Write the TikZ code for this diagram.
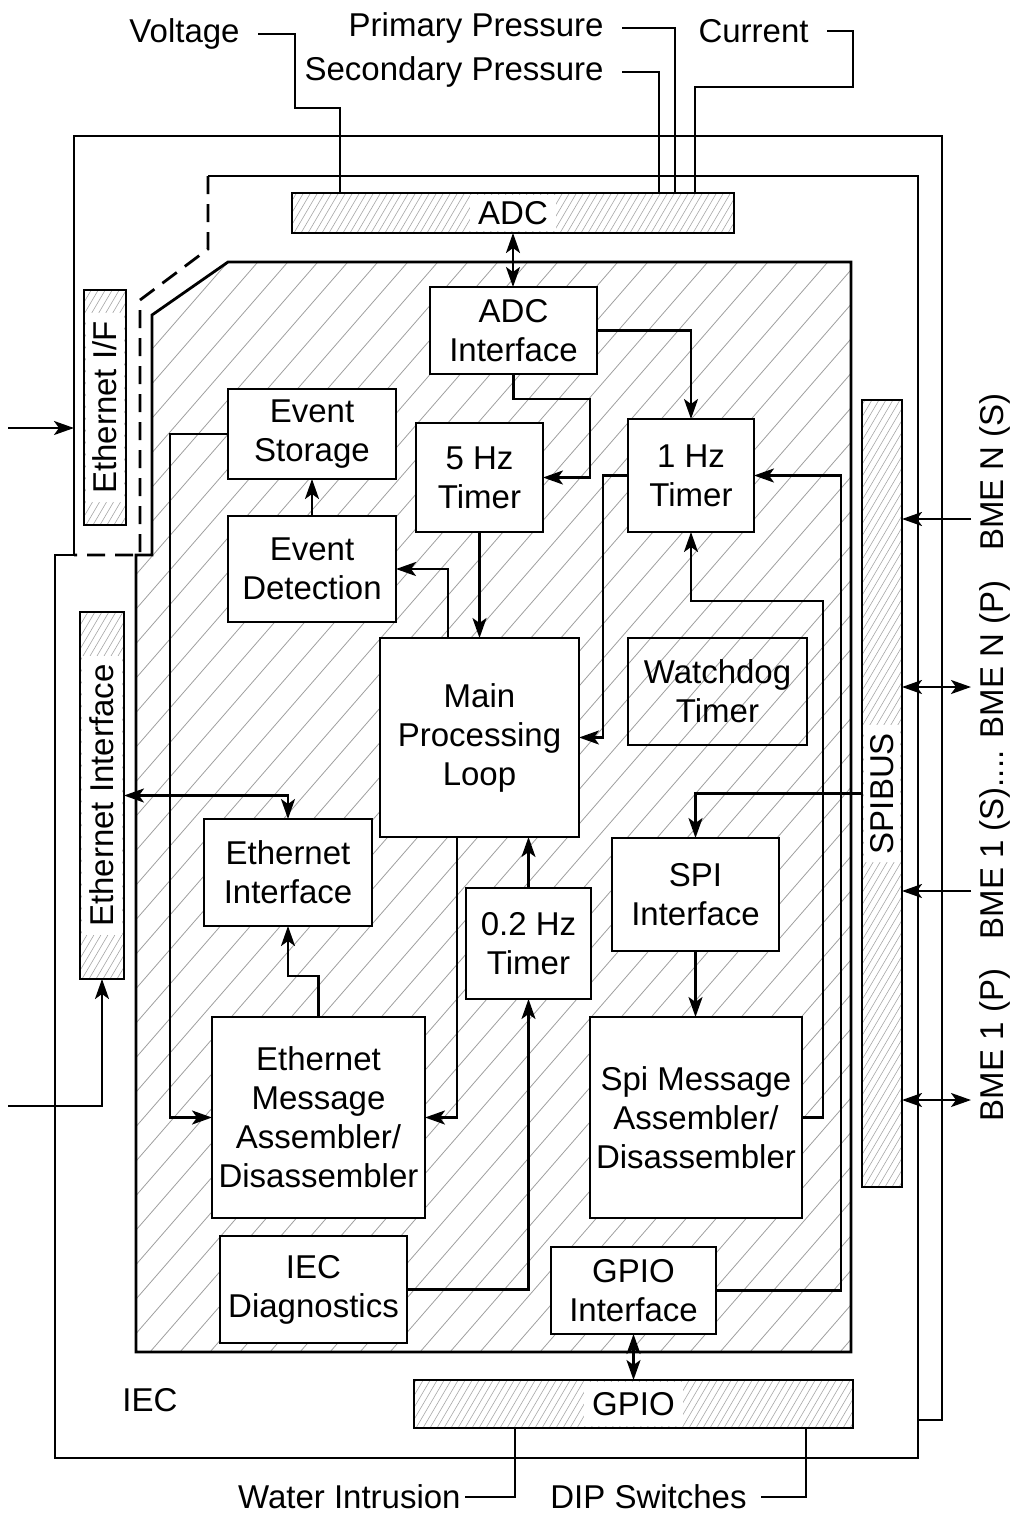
\documentclass[tikz,border=0pt]{standalone}
\usepackage{fontspec}
\setmainfont{Liberation Sans}
\usetikzlibrary{arrows.meta, calc}
\newcommand{\figfont}{\fontsize{16.5}{19.5}\selectfont}
% dense hatching of a bus bar, border drawn again on top
\newcommand{\barhatch}[1]{%
	\begin{scope}
		\clip (#1.south west) rectangle (#1.north east);
		\foreach \k in {0,...,200}
		\draw[barline] ($(#1.south west)+(\k*7-600,0)$) -- ++(500,-850);
	\end{scope}
	\draw[line width=1.4pt] (#1.south west) rectangle (#1.north east);}

\begin{document}
\begin{tikzpicture}[x=0.5pt, y=-0.5pt, font=\figfont,
				blk/.style={draw, fill=white, line width=1.4pt, align=center, inner sep=0pt, outer sep=0pt},
				sz/.style 2 args={minimum width=#1*0.5pt, minimum height=#2*0.5pt},
				bar/.style={draw, line width=1.4pt, inner sep=0pt, outer sep=0pt},
				barlbl/.style={fill=white, inner xsep=4pt, inner ysep=0pt},
				lbl/.style={inner xsep=9pt, inner ysep=2pt},
				wire/.style={line width=1.2pt},
				arr/.style={wire, -{Stealth[length=10pt, width=7pt, inset=2.5pt]}},
				darr/.style={wire, {Stealth[length=10pt, width=7pt, inset=2.5pt]}-{Stealth[length=10pt, width=7pt, inset=2.5pt]}},
				frame/.style={line width=1.4pt},
				hatch/.style={gray!75, line width=0.4pt},
				barline/.style={gray!70, line width=0.3pt}]
				\useasboundingbox (0,0) rectangle (1019,1516);
				%--- outer frames ---
				\coordinate (fa) at (74,136);
				\draw[frame] (74,555) -- (fa) -- (942,136) -- (942,1420) -- (918,1420);
				\draw[frame] (74,555) -- (55,555) -- (55,1458) -- (918,1458) -- (918,176) -- (208,176);
				\draw[frame, dash pattern=on 9pt off 5pt]
				(208,176) -- (208,249) -- (140,300) -- (140,555) -- (74,555);
				%--- hatched processor area ---
				\begin{scope}
					\clip (136,1352) -- (136,555) -- (152,555) -- (152,315) -- (228,262)
					-- (851,262) -- (851,1352) -- cycle;
					\foreach \k in {0,...,60}
					\draw[hatch] (\k*30-900,1352) -- ++(1000,-1150);
				\end{scope}
				\draw[frame] (136,1352) -- (136,555) -- (152,555) -- (152,315) -- (228,262)
				-- (851,262) -- (851,1352) -- cycle;
				%--- blocks ---
				\node[blk, sz={167}{87}] (adcif) at (513.5,330.5) {ADC\\Interface};
				\node[blk, sz={168}{90}] (store) at (312,434) {Event\\Storage};
				\node[blk, sz={168}{106}] (detect) at (312,569) {Event\\Detection};
				\node[blk, sz={127}{109}] (t5) at (479.5,477.5) {5 Hz\\Timer};
				\node[blk, sz={126}{113}] (t1) at (691,475.5) {1 Hz\\Timer};
				\node[blk, sz={199}{199}] (loop) at (479.5,737.5) {Main\\Processing\\Loop};
				\node[blk, fill=none, sz={179}{107}] (wdog) at (717.5,691.5) {Watchdog\\Timer};
				\node[blk, sz={168}{107}] (ethif) at (288,872.5) {Ethernet\\Interface};
				\node[blk, sz={125}{111}] (t02) at (528.5,943.5) {0.2 Hz\\Timer};
				\node[blk, sz={167}{113}] (spiif) at (695.5,894.5) {SPI\\Interface};
				\node[blk, sz={213}{201}] (ethmsg) at (318.5,1117.5)
				{Ethernet\\Message\\Assembler/\\Disassembler};
				\node[blk, sz={212}{201}] (spimsg) at (696,1117.5)
				{Spi Message\\Assembler/\\Disassembler};
				\node[blk, sz={187}{107}] (diag) at (313.5,1289.5) {IEC\\Diagnostics};
				\node[blk, sz={165}{87}] (gpioif) at (633.5,1290.5) {GPIO\\Interface};
				%--- bus bars ---
				\node[bar, sz={442}{40}] (adc) at (513,213) {};
				\node[bar, sz={439}{48}] (gpio) at (633.5,1404) {};
				\node[bar, sz={42}{235}] (ethf) at (105,407.5) {};
				\node[bar, sz={44}{367}] (ethbar) at (102,795.5) {};
				\node[bar, sz={40}{787}] (spibus) at (882,793.5) {};
				\barhatch{adc}
				\barhatch{gpio}
				\barhatch{ethf}
				\barhatch{ethbar}
				\barhatch{spibus}
				\node[barlbl, minimum height=18pt] (adcl) at (adc) {ADC};
				\node[barlbl, minimum height=22pt] (gpiol) at (gpio) {GPIO};
				\node[barlbl, rotate=90, minimum height=19pt] (ethfl) at (ethf) {Ethernet I/F};
				\node[barlbl, rotate=90, minimum height=20pt] (ethbarl) at (ethbar) {Ethernet Interface};
				\node[barlbl, rotate=90, minimum height=18pt] (spibusl) at (spibus) {SPIBUS};
				%--- internal connections ---
				\draw[darr] (adc.south) -- (adc.south |- adcif.north);
				\draw[arr] (adcif.east) -| (t1.north);
				\draw[arr] (adcif.south) |- (590,399) |- (t5.east);
				\draw[arr] (t5.south) -- (loop.north);
				\draw[arr] (loop.north west) ++(68,0) |- (detect.east);
				\draw[arr] (detect.north) -- (store.south);
				\draw[arr] (store.west) -- ++(-58,0) |- (ethmsg.west);
				\draw[arr] (t1.west) -- ++(-25,0) |- (loop.east);
				\draw[arr] (loop.south west) ++(77,0) |- (ethmsg.east);
				\draw[arr] (t02.north) -- (t02.north |- loop.south);
				\draw[arr] (diag.east) -| (t02.south);
				\draw[arr] (ethmsg.north) -- ++(0,-41) -| (ethif.south);
				\draw[darr] (ethbar.east) -| (ethif.north);
				\draw[arr] (spibus.west) -| (spiif.north);
				\draw[arr] (spiif.south) -- (spiif.south |- spimsg.north);
				\draw[arr] (spimsg.east) -| (823,601) -| (t1.south);
				\draw[arr] (gpioif.east) -| ($(t1.east)+(87,0)$) -- (t1.east);
				\draw[darr] (gpioif.south) -- (gpioif.south |- gpio.north);
				%--- external inputs ---
				\coordinate (lin1) at (8,428);
				\coordinate (lin2) at (8,1106);
				\draw[arr] (lin1) -- (lin1 -| fa);
				\draw[arr] (lin2) -| (ethbar.south);
				\coordinate (bns) at (971,519);
				\coordinate (bnp) at (971,687);
				\coordinate (b1s) at (971,891);
				\coordinate (b1p) at (971,1100);
				\draw[arr] (bns) -- (bns -| spibus.east);
				\draw[darr] (bnp) -- (bnp -| spibus.east);
				\draw[arr] (b1s) -- (b1s -| spibus.east);
				\draw[darr] (b1p) -- (b1p -| spibus.east);
				\node[rotate=90] (lbns) at (995,472) {BME N (S)};
				\node[rotate=90] (lbmid) at (995,760) {BME 1 (S).... BME N (P)};
				\node[rotate=90] (lb1p) at (995,1045) {BME 1 (P)};
				%--- sensor lines ---
				\node[lbl, anchor=east] (volt) at (258,34) {Voltage};
				\node[lbl, anchor=east] (ppres) at (622,28) {Primary Pressure};
				\node[lbl, anchor=east] (spres) at (622,72) {Secondary Pressure};
				\node[lbl, anchor=east] (curr) at (827,31) {Current};
				\draw[wire] (volt.east) -| (295,108) -| ($(adc.north west)+(48,0)$);
				\draw[wire] (ppres.east) -| ($(adc.north west)+(383,0)$);
				\draw[wire] (spres.east) -| ($(adc.north west)+(367,0)$);
				\draw[wire] (curr.east) -| (853,87) -| ($(adc.north west)+(403,0)$);
				\node[lbl, anchor=east, inner xsep=2pt] (water) at (465,1497) {Water Intrusion};
				\node[lbl, anchor=east, inner xsep=7pt] (dip) at (761,1497) {DIP Switches};
				\draw[wire] (water.east) -| ($(gpio.south west)+(101,0)$);
				\draw[wire] (dip.east) -| ($(gpio.south west)+(392,0)$);
				\node (ieclbl) at (150,1400) {IEC};
			\end{tikzpicture}
\end{document}
